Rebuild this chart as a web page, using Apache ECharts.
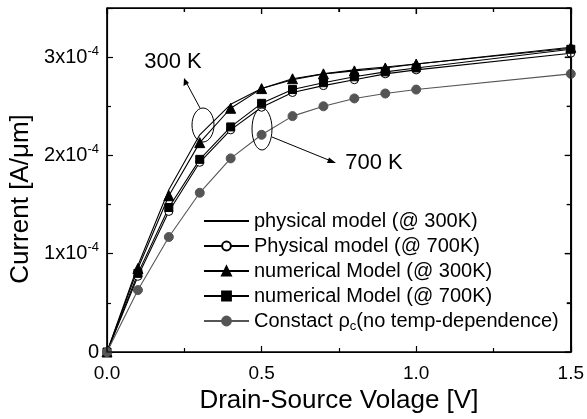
<!DOCTYPE html>
<html><head><meta charset="utf-8">
<script src="https://cdn.jsdelivr.net/npm/echarts@6/dist/echarts.min.js"></script>
<style>html,body{margin:0;padding:0;background:#fff}#c{width:587px;height:419px}</style>
</head><body><div id="c"></div>
<script>
// Drain-source voltage [V]
const vds = [0, 0.1, 0.2, 0.3, 0.4, 0.5, 0.6, 0.7, 0.8, 0.9, 1.0, 1.5];
// Current in units of 1e-4 A/um
const phys300 = [0, 0.88, 1.65, 2.21, 2.52, 2.68, 2.77, 2.83, 2.87, 2.90, 2.93, 3.09];
const phys700 = [0, 0.77, 1.43, 1.93, 2.26, 2.49, 2.64, 2.71, 2.77, 2.83, 2.87, 3.04];
const num300  = [0, 0.85, 1.59, 2.13, 2.48, 2.68, 2.78, 2.83, 2.86, 2.89, 2.93, 3.10];
const num700  = [0, 0.80, 1.47, 1.96, 2.29, 2.53, 2.67, 2.74, 2.80, 2.85, 2.89, 3.08];
const constRho = [0, 0.63, 1.17, 1.62, 1.97, 2.21, 2.40, 2.50, 2.58, 2.63, 2.67, 2.83];
const yTicks = [0, 1, 2, 3];
const xFrameTicks = [0, 0.25, 0.5, 0.75, 1.0, 1.25, 1.5];
const yFrameTicks = [0, 0.5, 1, 1.5, 2, 2.5, 3, 3.5];
const seriesNames = ['physical model (@ 300K)', 'Physical model (@ 700K)', 'numerical Model (@ 300K)', 'numerical Model (@ 700K)', 'Constact ρ{sub|c}(no temp-dependence)'];
const yTitle = 'Current [A/μm]';
const xTitle = 'Drain-Source Volage [V]';
const notes = ['300 K', '700 K'];

const FONT = '"Liberation Sans", Arial, sans-serif';
const pairs = arr => vds.map((x, i) => [x, arr[i]]);
const chart = echarts.init(document.getElementById('c'));
function axisCommon() {
  return {
    axisLine: { show: true, onZero: false, lineStyle: { color: '#000', width: 1.2 } },
    axisTick: { show: true, inside: true, length: 6, lineStyle: { color: '#000', width: 1.2 } },
    minorTick: { show: true, splitNumber: 2, length: 4, lineStyle: { color: '#000', width: 1.2 } },
    splitLine: { show: false }
  };
}
function mkSeries(name, data, sym, color, size, fill) {
  return {
    name: name, type: 'line', data: pairs(data), xAxisIndex: 0, yAxisIndex: 0,
    symbol: sym, symbolSize: size, showSymbol: sym !== 'none',
    lineStyle: { color: color, width: 1.1 },
    itemStyle: { color: fill || color, borderColor: color, borderWidth: 1 },
    emphasis: { disabled: true }, animation: false, z: 3
  };
}
chart.setOption({
  animation: false,
  grid: { left: 107, right: 16, top: 8, bottom: 67, show: true, borderColor: '#000', borderWidth: 1.2, backgroundColor: 'transparent' },
  xAxis: [
    Object.assign(axisCommon(), {
      type: 'value', min: 0, max: 1.5, interval: 0.5, position: 'bottom',
      axisLabel: { color: '#000', fontSize: 19, fontFamily: FONT, margin: 12, formatter: v => v.toFixed(1) },
      name: xTitle, nameLocation: 'middle', nameGap: 35,
      nameTextStyle: { color: '#000', fontSize: 26, fontFamily: FONT }
    }),
    Object.assign(axisCommon(), {
      type: 'value', min: 0, max: 1.5, interval: 0.5, position: 'top', show: true,
      axisLabel: { show: false }
    })
  ],
  yAxis: [
    Object.assign(axisCommon(), {
      type: 'value', min: 0, max: 3.5, interval: 1, position: 'left',
      axisLabel: {
        color: '#000', fontSize: 20, fontFamily: FONT, margin: 8,
        formatter: v => yTicks.indexOf(v) < 0 ? '' : (v === 0 ? '0' : '{b|' + v + 'x10}{s|-4}'),
        rich: {
          b: { fontSize: 20, fontFamily: FONT, color: '#000' },
          s: { fontSize: 13, fontFamily: FONT, color: '#000', verticalAlign: 'top', padding: [0, 0, 12, 0] }
        }
      }
    }),
    Object.assign(axisCommon(), {
      type: 'value', min: 0, max: 3.5, interval: 1, position: 'right', show: true,
      axisLabel: { show: false }
    })
  ],
  legend: {
    orient: 'vertical', left: 198, top: 206, itemWidth: 45, itemHeight: 11, itemGap: 5,
    selectedMode: false,
    textStyle: {
      color: '#000', fontSize: 20, fontFamily: FONT,
      rich: { sub: { fontSize: 13, fontFamily: FONT, color: '#000', verticalAlign: 'bottom', padding: [10, 0, 0, 0] } }
    },
    data: seriesNames.map((n, i) => i === 0 ? { name: n, itemStyle: { opacity: 0 } } : n)
  },
  series: [
    mkSeries(seriesNames[0], phys300, 'none', '#000', 0),
    mkSeries(seriesNames[1], phys700, 'circle', '#000', 8, '#fff'),
    mkSeries(seriesNames[2], num300, 'triangle', '#000', 10),
    mkSeries(seriesNames[3], num700, 'rect', '#000', 8),
    mkSeries(seriesNames[4], constRho, 'circle', '#555', 9)
  ]
});

// Annotations and frame drawn on the zrender layer
try {
  const G = echarts.graphic, zr = chart.getZr();
  const stroke = { fill: 'none', stroke: '#000', lineWidth: 1 };
  const frameStroke = { fill: 'none', stroke: '#000', lineWidth: 1.2 };
  const p0 = chart.convertToPixel({ gridIndex: 0 }, [0, 0]);
  const p1 = chart.convertToPixel({ gridIndex: 0 }, [1.5, 3.5]);
  const left = p0[0], bottom = p0[1], right = p1[0], top = p1[1];
  const els = [
    new G.Rect({ shape: { x: left, y: top, width: right - left, height: bottom - top }, style: frameStroke }),
    new G.Text({ x: 21, y: 199, rotation: Math.PI / 2, style: { text: yTitle, fill: '#000', font: '26px ' + FONT, align: 'center', verticalAlign: 'middle' } }),
    new G.Text({ x: 173, y: 62, style: { text: notes[0], fill: '#000', font: '22px ' + FONT, align: 'center', verticalAlign: 'middle' } }),
    new G.Text({ x: 374, y: 163, style: { text: notes[1], fill: '#000', font: '22px ' + FONT, align: 'center', verticalAlign: 'middle' } }),
    new G.Ellipse({ shape: { cx: 203, cy: 125, rx: 11, ry: 17 }, style: stroke }),
    new G.Ellipse({ shape: { cx: 262, cy: 129, rx: 10, ry: 21 }, style: stroke }),
    new G.Line({ shape: { x1: 200, y1: 108, x2: 186, y2: 82 }, style: stroke }),
    new G.Polygon({ shape: { points: [[184, 78], [183.5, 86], [189, 83]] }, style: { fill: '#000' } }),
    new G.Line({ shape: { x1: 272, y1: 137, x2: 331, y2: 161 }, style: stroke }),
    new G.Polygon({ shape: { points: [[336, 163], [329, 157.5], [327, 163]] }, style: { fill: '#000' } })
  ];
  xFrameTicks.forEach((v, i) => {
    const px = chart.convertToPixel({ xAxisIndex: 0 }, v);
    const len = i % 2 === 0 ? 6 : 4;
    els.push(new G.Line({ shape: { x1: px, y1: top, x2: px, y2: top + len }, style: frameStroke }));
  });
  yFrameTicks.forEach((v, i) => {
    const py = chart.convertToPixel({ yAxisIndex: 0 }, v);
    const len = i % 2 === 0 ? 6 : 4;
    els.push(new G.Line({ shape: { x1: right, y1: py, x2: right - len, y2: py }, style: frameStroke }));
  });
  els.forEach(el => { el.z = 100; zr.add(el); });
} catch (e) { /* ignore */ }
</script></body></html>
